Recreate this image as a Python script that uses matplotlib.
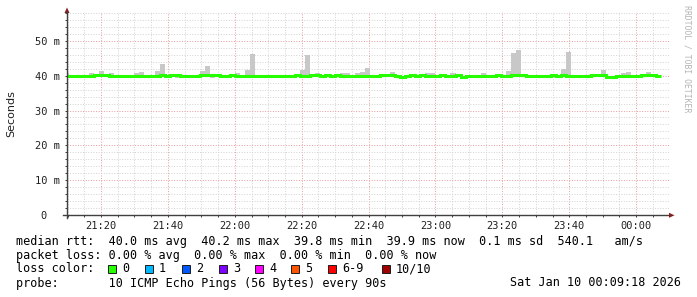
import datetime as dt
import matplotlib
matplotlib.use('Agg')
import matplotlib.pyplot as plt
import matplotlib.dates as mdates
from matplotlib.ticker import MultipleLocator, FixedLocator
from matplotlib.patches import Rectangle, Polygon
from matplotlib.lines import Line2D

# --- data: one value per 90 s step, in milliseconds ---
t_first = dt.datetime(2026, 1, 9, 21, 9, 0)   # start of first step
step_s = 90
view_start = dt.datetime(2026, 1, 9, 21, 9, 50)
view_end = dt.datetime(2026, 1, 10, 0, 9, 50)

median = [
    40.0, 40.0, 40.0, 40.0, 40.0, 40.0, 40.3, 40.3, 40.3, 40.0,
    40.0, 40.0, 40.0, 40.0, 40.0, 40.0, 40.0, 40.0, 40.0, 40.3,
    40.0, 40.3, 40.3, 40.0, 40.0, 40.0, 40.0, 40.3, 40.3, 40.3,
    40.3, 40.0, 40.0, 40.3, 40.0, 40.0, 40.0, 40.0, 40.0, 40.0,
    40.0, 40.0, 40.0, 40.0, 40.0, 40.0, 40.3, 40.0, 40.0, 40.3,
    40.3, 40.0, 40.3, 40.0, 40.3, 40.0, 40.0, 40.0, 40.0, 40.0,
    40.0, 40.0, 40.0, 40.3, 40.3, 40.3, 40.0, 39.7, 40.0, 40.3,
    40.0, 40.3, 40.0, 40.0, 40.0, 40.3, 40.0, 40.0, 40.3, 39.7,
    40.0, 40.0, 40.0, 40.0, 40.0, 40.0, 40.3, 40.0, 40.0, 40.3,
    40.3, 40.3, 40.0, 40.0, 40.0, 40.0, 40.0, 40.3, 40.0, 40.3,
    40.0, 40.0, 40.0, 40.0, 40.0, 40.3, 40.3, 40.3, 39.7, 39.7,
    40.0, 40.0, 40.0, 40.0, 40.0, 40.3, 40.3, 40.3, 40.0,
]

smoke_hi = [
    40.8, 40.2, 40.2, 40.2, 40.2, 40.7, 40.5, 41.3, 40.5, 40.7,
    40.2, 40.2, 40.2, 40.2, 40.7, 41.0, 40.2, 40.2, 41.2, 43.3,
    40.2, 40.5, 40.5, 40.2, 40.2, 40.2, 40.2, 41.2, 42.8, 40.5,
    40.5, 40.2, 40.2, 40.5, 40.7, 40.2, 41.7, 46.3, 40.2, 40.2,
    40.2, 40.2, 40.2, 40.2, 40.2, 40.2, 40.5, 41.7, 46.0, 40.5,
    40.7, 40.2, 40.5, 40.2, 40.5, 40.7, 40.7, 40.2, 40.7, 40.9,
    42.2, 40.2, 40.2, 40.5, 40.5, 40.9, 40.2, 39.9, 40.2, 40.5,
    40.2, 40.5, 40.7, 40.7, 40.2, 40.5, 40.2, 40.7, 40.5, 39.9,
    40.2, 40.2, 40.2, 40.7, 40.2, 40.2, 40.5, 40.2, 41.4, 46.6,
    47.2, 40.5, 40.2, 40.2, 40.2, 40.2, 40.2, 40.5, 40.2, 42.0,
    46.8, 40.2, 40.2, 40.2, 40.2, 40.5, 40.5, 41.6, 39.9, 39.9,
    40.2, 40.7, 41.0, 40.2, 40.2, 40.5, 40.9, 40.5, 40.2,
]

smoke_lo = [
    39.8, 39.8, 39.8, 39.8, 39.8, 39.8, 40.1, 40.1, 40.1, 39.8,
    39.8, 39.8, 39.8, 39.8, 39.8, 39.8, 39.8, 39.8, 39.8, 40.1,
    39.8, 40.1, 39.4, 39.8, 39.8, 39.8, 39.8, 40.1, 40.1, 39.4,
    40.1, 39.8, 39.8, 40.1, 39.8, 39.8, 39.8, 39.8, 39.8, 39.8,
    39.8, 39.8, 39.8, 39.8, 39.8, 39.8, 40.1, 39.8, 39.8, 40.1,
    40.1, 39.8, 40.1, 39.8, 40.1, 39.8, 39.8, 39.8, 39.8, 39.8,
    39.5, 39.8, 39.8, 40.1, 40.1, 40.1, 39.8, 39.5, 39.8, 40.1,
    39.8, 40.1, 39.8, 39.8, 39.8, 40.1, 39.8, 39.8, 40.1, 39.5,
    39.8, 39.8, 39.8, 39.8, 39.8, 39.8, 40.1, 39.8, 39.8, 40.1,
    40.1, 40.1, 39.8, 39.8, 39.8, 39.8, 39.8, 39.4, 39.8, 40.1,
    39.8, 39.8, 39.8, 39.8, 39.8, 40.1, 40.1, 40.1, 39.5, 39.5,
    39.8, 39.8, 39.8, 39.8, 39.8, 40.1, 40.1, 40.1, 39.8,
]

y_ticks = [0, 10, 20, 30, 40, 50]
y_labels = ['0  ', '10 m', '20 m', '30 m', '40 m', '50 m']

loss_names = ['0', '1', '2', '3', '4', '5', '6-9', '10/10']
loss_colors = ['#26ff00', '#00b8ff', '#0059ff', '#7e00ff',
               '#ff00ff', '#ff5500', '#ff0000', '#a10000']

legend_rtt = 'median rtt:  40.0 ms avg  40.2 ms max  39.8 ms min  39.9 ms now  0.1 ms sd  540.1   am/s'
legend_loss = 'packet loss: 0.00 % avg  0.00 % max  0.00 % min  0.00 % now'
legend_probe = 'probe:       10 ICMP Echo Pings (56 Bytes) every 90s'
stamp = 'Sat Jan 10 00:09:18 2026'

# --- figure ---
W, H = 697, 297
fig = plt.figure(figsize=(W / 100, H / 100), dpi=100)
fig.patch.set_facecolor('white')

def fx(px):
    return px / W

def fy(py):
    return 1 - py / H

x0, x1, y0, y1 = 67, 669, 215.3, 12.0
ax = fig.add_axes([fx(x0), fy(y0), fx(x1 - x0), (y0 - y1) / H])

edges = mdates.date2num([t_first + dt.timedelta(seconds=step_s * k)
                         for k in range(len(median) + 1)])

ax.stairs(smoke_hi, edges, baseline=smoke_lo, fill=True,
          color='#c8c8c8', lw=0, zorder=2)
ax.stairs(median, edges, baseline=None, color='#26ff00', lw=2.2, zorder=3)

ax.set_xlim(mdates.date2num(view_start), mdates.date2num(view_end))
ax.set_ylim(0, 58.2)

ax.xaxis.set_major_locator(mdates.MinuteLocator(byminute=[0, 20, 40]))
ax.xaxis.set_minor_locator(mdates.MinuteLocator(byminute=range(0, 60, 5)))
ax.xaxis.set_major_formatter(mdates.DateFormatter('%H:%M'))
ax.yaxis.set_major_locator(FixedLocator(y_ticks))
ax.yaxis.set_minor_locator(MultipleLocator(2))
ax.set_yticklabels(y_labels)

ax.grid(which='minor', color='#d4d4d4', lw=0.72, ls=(0, (1, 1.6)), zorder=1)
ax.grid(which='major', color='#e8a0a0', lw=0.72, ls=(0, (1, 1.6)), zorder=1)
ax.set_axisbelow(True)

mono = 'DejaVu Sans Mono'
ax.tick_params(which='both', direction='out', length=1.6, width=0.72,
               color='#404040', labelsize=7.5, labelcolor='#202020')
ax.tick_params(axis='x', pad=2.6)
ax.tick_params(axis='y', pad=3.4)
for lab in ax.get_xticklabels() + ax.get_yticklabels():
    lab.set_family(mono)

for s in ax.spines.values():
    s.set_visible(False)

# axes lines with arrows (rrdtool style)
fig.add_artist(Line2D([fx(x0), fx(x0)], [fy(y0 + 3), fy(11)], color='#404040', lw=1.0))
fig.add_artist(Line2D([fx(63), fx(x1)], [fy(y0), fy(y0)], color='#404040', lw=1.0))
fig.add_artist(Polygon([[fx(x0 - 2.5), fy(13)], [fx(x0 + 2.5), fy(13)], [fx(x0), fy(7.5)]],
                       closed=True, color='#8b1a1a', lw=0))
fig.add_artist(Polygon([[fx(x1), fy(y0 - 2.5)], [fx(x1), fy(y0 + 2.5)], [fx(x1 + 5.5), fy(y0)]],
                       closed=True, color='#8b1a1a', lw=0))

fig.text(fx(11), fy(114), 'Seconds', rotation=90, ha='center', va='center',
         fontsize=8, family='DejaVu Sans', color='#202020')

fig.text(fx(687), fy(5), 'RRDTOOL / TOBI OETIKER', rotation=270, ha='center', va='top',
         fontsize=5.9, family=mono, color='#b4b4b4')

# legend block
lfs = 8.5
fig.text(fx(16), fy(241), legend_rtt, ha='left', va='center', fontsize=lfs, family=mono)
fig.text(fx(16), fy(255), legend_loss, ha='left', va='center', fontsize=lfs, family=mono)
fig.text(fx(16), fy(269), 'loss color:', ha='left', va='center', fontsize=lfs, family=mono)
fig.text(fx(16), fy(283), legend_probe, ha='left', va='center', fontsize=lfs, family=mono)
fig.text(fx(681), fy(283), stamp, ha='right', va='center', fontsize=lfs, family=mono)

box_x = [108, 145, 182, 219, 255, 291, 328, 382]
for bx, name, col in zip(box_x, loss_names, loss_colors):
    fig.add_artist(Rectangle((fx(bx), fy(273)), fx(8), 8 / H,
                             facecolor=col, edgecolor='#202020', lw=0.72))
    fig.text(fx(bx + 14), fy(269), name, ha='left', va='center', fontsize=lfs, family=mono)

fig.savefig('out.png', dpi=100, facecolor='white')
